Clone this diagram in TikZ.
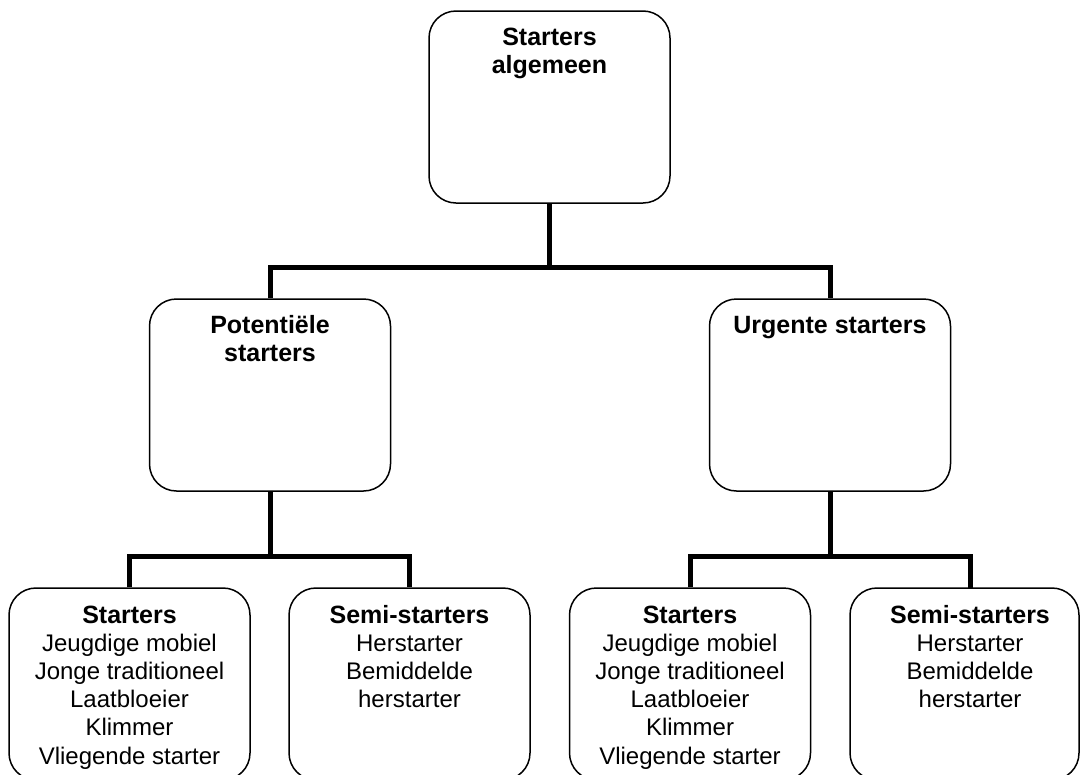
\documentclass[tikz,border=0pt]{standalone}
\usepackage{fontspec}
\setmainfont{Liberation Sans}
\newcommand{\hdr}[1]{\fontsize{25}{28.2}\selectfont\bfseries #1}
\tikzset{
  box/.style={draw, line width=1.5pt, rounded corners=27pt, minimum width=241pt,
    minimum height=192pt, inner sep=0pt, fill=white},
  bus/.style={line width=5pt, line join=miter},
  lbl/.style={anchor=base, inner sep=0pt, font=\fontsize{24}{28.2}\selectfont}
}
\begin{document}
\begin{tikzpicture}[x=1pt,y=-1pt]
\useasboundingbox (0,0) rectangle (1081,774);
\clip (0,0) rectangle (1081,774);
% boxes
\node[box] (top) at (549.5,107) {};
\node[box] (ml) at (270,395) {};
\node[box] (mr) at (830,395) {};
\node[box] (b1) at (129.5,684) {};
\node[box] (b2) at (409.5,684) {};
\node[box] (b3) at (690,684) {};
\node[box, minimum width=229pt] (b4) at (964.5,684) {};
% hubs
\coordinate (hubT) at (549.5,267);
\coordinate (hubL) at (270,556);
\coordinate (hubR) at (830,556);
\coordinate (b4c) at (970,588);
% connectors
\draw[bus] (top.south) -- (hubT);
\draw[bus] (ml.north) -- (ml.north |- hubT) -- (mr.north |- hubT) -- (mr.north);
\draw[bus] (ml.south) -- (hubL);
\draw[bus] (b1.north) -- (b1.north |- hubL) -- (b2.north |- hubL) -- (b2.north);
\draw[bus] (mr.south) -- (hubR);
\draw[bus] (b3.north) -- (b3.north |- hubR) -- (b4c |- hubR) -- (b4c);
% texts
\node[lbl] (ttop) at (549.5,45) {\begin{tabular}[t]{@{}c@{}}\hdr{Starters}\\\hdr{algemeen}\end{tabular}};
\node[lbl] (tml) at (270,333) {\begin{tabular}[t]{@{}c@{}}\hdr{Potentiële}\\\hdr{starters}\end{tabular}};
\node[lbl] (tmr) at (830,333) {\begin{tabular}[t]{@{}c@{}}\hdr{Urgente starters}\end{tabular}};
\node[lbl] (tb1) at (129.5,623) {\begin{tabular}[t]{@{}c@{}}\hdr{Starters}\\Jeugdige mobiel\\Jonge traditioneel\\Laatbloeier\\Klimmer\\Vliegende starter\end{tabular}};
\node[lbl] (tb2) at (409.5,623) {\begin{tabular}[t]{@{}c@{}}\hdr{Semi-starters}\\Herstarter\\Bemiddelde\\herstarter\end{tabular}};
\node[lbl] (tb3) at (690,623) {\begin{tabular}[t]{@{}c@{}}\hdr{Starters}\\Jeugdige mobiel\\Jonge traditioneel\\Laatbloeier\\Klimmer\\Vliegende starter\end{tabular}};
\node[lbl] (tb4) at (970,623) {\begin{tabular}[t]{@{}c@{}}\hdr{Semi-starters}\\Herstarter\\Bemiddelde\\herstarter\end{tabular}};
\end{tikzpicture}
\end{document}
